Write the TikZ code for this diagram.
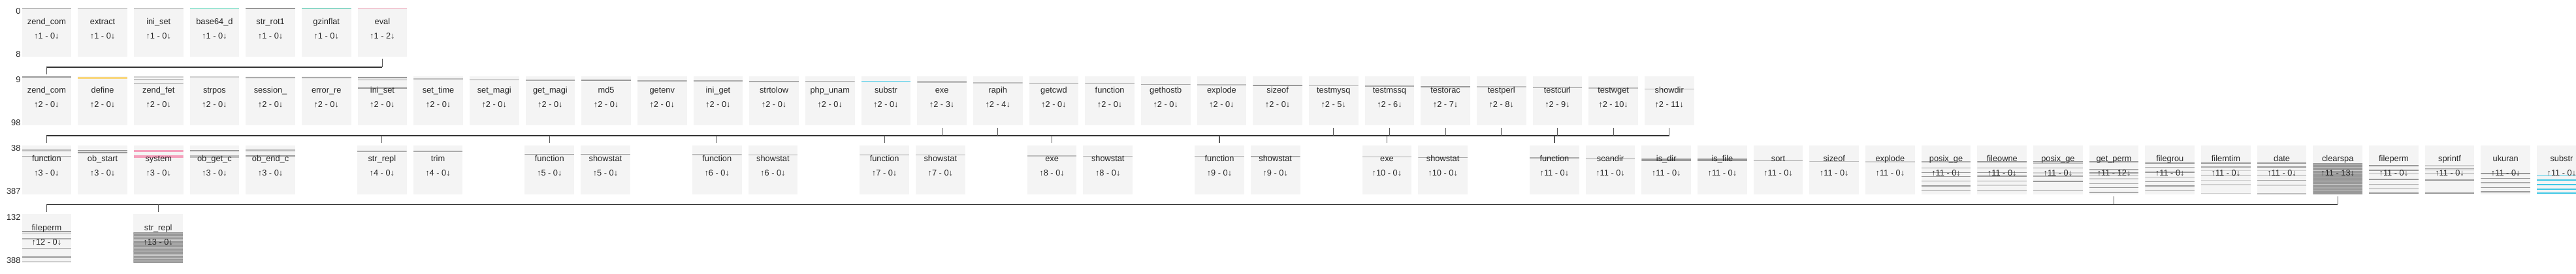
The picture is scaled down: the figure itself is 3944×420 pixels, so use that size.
\documentclass[tikz,border=0pt]{standalone}
\usepackage{fontspec}
\setmainfont{Liberation Sans}
\usepackage{tikz}
\usetikzlibrary{positioning,calc}

\definecolor{boxbg}{HTML}{F4F4F4}
\definecolor{hitA}{HTML}{999999}
\definecolor{hitB}{HTML}{ABABAB}
\definecolor{hitC}{HTML}{BDBDBD}
\definecolor{hitD}{HTML}{CFCFCF}
\definecolor{tealA}{HTML}{3DD4B0}
\definecolor{tealB}{HTML}{8ED8C8}
\definecolor{pinkA}{HTML}{F09AB0}
\definecolor{pinkB}{HTML}{F5A0BC}
\definecolor{yellowA}{HTML}{F9D77E}
\definecolor{cyanA}{HTML}{3FC8E6}

\begin{document}
\begin{tikzpicture}[x=0.75pt,y=-0.75pt,
  fn/.style={rectangle,fill=boxbg,anchor=north west,inner sep=0pt,
             minimum width=56.8pt,minimum height=56.25pt,align=center,
             text height=35.5pt,text depth=20.75pt,text=black!85,
             font=\fontsize{9.6pt}{16.6pt}\selectfont},
  hits/.style={path picture={
     \foreach \yy/\cc/\ww in {#1}
       \draw[color=\cc,line width=\ww pt]
         ($(path picture bounding box.north west)+(0,\yy)$) --
         ($(path picture bounding box.north east)+(0,\yy)$);}},
  rowno/.style={anchor=east,inner sep=0pt,text=black!85,
                font=\fontsize{9.6pt}{11pt}\selectfont},
  bus/.style={line width=1.2pt,black!80},
  tick/.style={line width=0.9pt,black!65}]

\useasboundingbox (0,0) rectangle (3944,420);

% first row
\node[fn,hits={1/hitC/1.5}] (zendA) at (33.3,11.7) {zend\_com\\↑1 - 0↓};
\node[fn,hits={1/hitD/1.5},right=7.05pt of zendA] (extract) {extract\\↑1 - 0↓};
\node[fn,hits={0.6/hitA/0.9},right=7.05pt of extract] (inisetA) {ini\_set\\↑1 - 0↓};
\node[fn,hits={0.6/tealA/0.9},right=7.05pt of inisetA] (base64) {base64\_d\\↑1 - 0↓};
\node[fn,hits={1/hitA/1.5},right=7.05pt of base64] (strrot) {str\_rot1\\↑1 - 0↓};
\node[fn,hits={1/tealB/1.5},right=7.05pt of strrot] (gzinflat) {gzinflat\\↑1 - 0↓};
\node[fn,hits={0.6/pinkA/0.9},right=7.05pt of gzinflat] (eval) {eval\\↑1 - 2↓};

% second row
\node[fn,hits={0.8/hitA/0.9},below=22.35pt of zendA] (zendB) {zend\_com\\↑2 - 0↓};
\node[fn,hits={2.5/yellowA/2.2},right=7.05pt of zendB] (define) {define\\↑2 - 0↓};
\node[fn,hits={{1/hitD/1.5,4.3/hitB/0.9,10.3/hitA/0.9}},right=7.05pt of define] (zendfet) {zend\_fet\\↑2 - 0↓};
\node[fn,hits={1.2/hitD/1.5},right=7.05pt of zendfet] (strpos) {strpos\\↑2 - 0↓};
\node[fn,hits={1.7/hitB/0.9},right=7.05pt of strpos] (session) {session\_\\↑2 - 0↓};
\node[fn,hits={1.7/hitB/0.9},right=7.05pt of session] (errorre) {error\_re\\↑2 - 0↓};
\node[fn,hits={{2/hitA/1.5,5.3/hitA/0.9,17.7/hitA/0.9}},right=7.05pt of errorre] (inisetB) {ini\_set\\↑2 - 0↓};
\node[fn,hits={3.7/hitC/0.9},right=7.05pt of inisetB] (settime) {set\_time\\↑2 - 0↓};
\node[fn,hits={4.7/hitD/1.5},right=7.05pt of settime] (setmagi) {set\_magi\\↑2 - 0↓};
\node[fn,hits={5.7/hitB/0.9},right=7.05pt of setmagi] (getmagi) {get\_magi\\↑2 - 0↓};
\node[fn,hits={6/hitA/1.5},right=7.05pt of getmagi] (md5) {md5\\↑2 - 0↓};
\node[fn,hits={6.7/hitB/0.9},right=7.05pt of md5] (getenv) {getenv\\↑2 - 0↓};
\node[fn,hits={7/hitB/1.5},right=7.05pt of getenv] (iniget) {ini\_get\\↑2 - 0↓};
\node[fn,hits={7.7/hitB/1.5},right=7.05pt of iniget] (strtolow) {strtolow\\↑2 - 0↓};
\node[fn,hits={7.3/hitA/0.9},right=7.05pt of strtolow] (phpunam) {php\_unam\\↑2 - 0↓};
\node[fn,hits={7.3/cyanA/0.9},right=7.05pt of phpunam] (substrA) {substr\\↑2 - 0↓};
\node[fn,hits={8.3/hitC/2.2},right=7.05pt of substrA] (exe) {exe\\↑2 - 3↓};
\node[fn,hits={9.7/hitC/2.2},right=7.05pt of exe] (rapih) {rapih\\↑2 - 4↓};
\node[fn,hits={11.3/hitA/0.9},right=7.05pt of rapih] (getcwd) {getcwd\\↑2 - 0↓};
\node[fn,hits={11.3/hitA/0.9},right=7.05pt of getcwd] (funcB) {function\\↑2 - 0↓};
\node[fn,hits={12.3/hitB/0.9},right=7.05pt of funcB] (gethostb) {gethostb\\↑2 - 0↓};
\node[fn,hits={13/hitC/1.5},right=7.05pt of gethostb] (explodeA) {explode\\↑2 - 0↓};
\node[fn,hits={13.7/hitA/1.5},right=7.05pt of explodeA] (sizeofA) {sizeof\\↑2 - 0↓};
\node[fn,hits={14/hitB/0.9},right=7.05pt of sizeofA] (testmysq) {testmysq\\↑2 - 5↓};
\node[fn,hits={14.7/hitB/0.9},right=7.05pt of testmysq] (testmssq) {testmssq\\↑2 - 6↓};
\node[fn,hits={15.7/hitA/0.9},right=7.05pt of testmssq] (testorac) {testorac\\↑2 - 7↓};
\node[fn,hits={16/hitC/1.5},right=7.05pt of testorac] (testperl) {testperl\\↑2 - 8↓};
\node[fn,hits={17.3/hitA/0.9},right=7.05pt of testperl] (testcurl) {testcurl\\↑2 - 9↓};
\node[fn,hits={18/hitC/1.5},right=7.05pt of testcurl] (testwget) {testwget\\↑2 - 10↓};
\node[fn,hits={19.3/hitB/0.9},right=7.05pt of testwget] (showdir) {showdir\\↑2 - 11↓};

% third row
\node[fn,hits={{8.3/hitC/2.2,16.7/hitA/0.9}},below=22.35pt of zendB] (funcC) {function\\↑3 - 0↓};
\node[fn,hits={{8.3/hitA/0.9,11.3/hitA/0.9}},right=7.05pt of funcC] (obstart) {ob\_start\\↑3 - 0↓};
\node[fn,hits={{8.3/pinkB/0.9,10/pinkB/0.9,16.3/pinkB/0.9,18.3/pinkB/0.9}},right=7.05pt of obstart] (system) {system\\↑3 - 0↓};
\node[fn,hits={{8.3/hitA/0.9,17.5/hitC/2.5}},right=7.05pt of system] (obgetc) {ob\_get\_c\\↑3 - 0↓};
\node[fn,hits={{8.3/hitC/2.2,16.3/hitA/0.9}},right=7.05pt of obgetc] (obendc) {ob\_end\_c\\↑3 - 0↓};
\node[fn,hits={9.7/hitB/1.5},right=70.875pt of obendc] (strreplA) {str\_repl\\↑4 - 0↓};
\node[fn,hits={9.7/hitB/1.5},right=7.05pt of strreplA] (trim) {trim\\↑4 - 0↓};
\node[fn,hits={14/hitA/0.9},right=70.875pt of trim] (funcD) {function\\↑5 - 0↓};
\node[fn,hits={14/hitA/0.9},right=7.05pt of funcD] (statD) {showstat\\↑5 - 0↓};
\node[fn,hits={14.7/hitC/1.5},right=70.875pt of statD] (funcE) {function\\↑6 - 0↓};
\node[fn,hits={15/hitB/0.9},right=7.05pt of funcE] (statE) {showstat\\↑6 - 0↓};
\node[fn,hits={15/hitA/0.9},right=70.875pt of statE] (funcF) {function\\↑7 - 0↓};
\node[fn,hits={15/hitB/0.9},right=7.05pt of funcF] (statF) {showstat\\↑7 - 0↓};
\node[fn,hits={16/hitC/1.5},right=70.875pt of statF] (exeG) {exe\\↑8 - 0↓};
\node[fn,hits={16.7/hitB/0.9},right=7.05pt of exeG] (statG) {showstat\\↑8 - 0↓};
\node[fn,hits={16.7/hitB/0.9},right=70.875pt of statG] (funcH) {function\\↑9 - 0↓};
\node[fn,hits={17.3/hitB/0.9},right=7.05pt of funcH] (statH) {showstat\\↑9 - 0↓};
\node[fn,hits={18/hitB/0.9},right=70.875pt of statH] (exeI) {exe\\↑10 - 0↓};
\node[fn,hits={19/hitB/0.9},right=7.05pt of exeI] (statI) {showstat\\↑10 - 0↓};
\node[fn,hits={19.7/hitB/1.5},right=70.875pt of statI] (funcJ) {function\\↑11 - 0↓};
\node[fn,hits={20.7/hitA/0.9},right=7.05pt of funcJ] (scandir) {scandir\\↑11 - 0↓};
\node[fn,hits={22.3/hitA/3},right=7.05pt of scandir] (isdir) {is\_dir\\↑11 - 0↓};
\node[fn,hits={22.7/hitA/3},right=7.05pt of isdir] (isfile) {is\_file\\↑11 - 0↓};
\node[fn,hits={24/hitA/0.9},right=7.05pt of isfile] (sort) {sort\\↑11 - 0↓};
\node[fn,hits={24.7/hitC/0.9},right=7.05pt of sort] (sizeofB) {sizeof\\↑11 - 0↓};
\node[fn,hits={25/hitD/1.5},right=7.05pt of sizeofB] (explodeB) {explode\\↑11 - 0↓};
\node[fn,hits={{25.7/hitB/1.5,34.7/hitA/0.9,42/hitA/0.9,48/hitA/0.9,55/hitA/0.9,62.3/hitA/0.9,69.7/hitA/0.9}},
      right=7.05pt of explodeB] (posixA) {posix\_ge\\↑11 - 0↓};
\node[fn,hits={{25.7/hitA/1.5,34.7/hitA/0.9,42/hitA/0.9,47.3/hitA/0.9,54.7/hitA/0.9,61.3/hitD/1.5,69/hitA/0.9}},
      right=7.05pt of posixA] (fileowne) {fileowne\\↑11 - 0↓};
\node[fn,hits={{25.7/hitA/1.5,27.6/hitC/0.9,34.7/hitA/0.9,42/hitD/1.5,47.3/hitB/0.9,55.7/hitA/1.5,69.7/hitA/0.9}},
      right=7.05pt of fileowne] (posixB) {posix\_ge\\↑11 - 0↓};
\node[fn,hits={{25.7/hitA/1.5,37.3/hitB/0.9,42.3/hitA/0.9,45.7/hitB/0.9,51.7/hitD/1.5,59/hitB/0.9,65/hitA/0.9,72.3/hitB/0.9}},
      right=7.05pt of posixB] (getperm) {get\_perm\\↑11 - 12↓};
\node[fn,hits={{27.3/hitA/1.5,34/hitB/0.9,41.3/hitA/1.5,49/hitB/0.9,55.7/hitA/0.9,62.3/hitA/0.9,69.7/hitA/0.9}},
      right=7.05pt of getperm] (filegrou) {filegrou\\↑11 - 0↓};
\node[fn,hits={{27.3/hitA/0.9,33.3/hitB/0.9,39/hitD/0.9,46.7/hitB/0.9,54/hitD/0.9,60.7/hitD/1.5,74/hitD/0.9}},
      right=7.05pt of filegrou] (filemtim) {filemtim\\↑11 - 0↓};
\node[fn,hits={{27.3/hitA/0.9,33.3/hitA/0.9,39/hitD/0.9,46.7/hitB/0.9,54/hitB/0.9,61.3/hitD/1.5,74/hitC/1.5}},
      right=7.05pt of filemtim] (date) {date\\↑11 - 0↓};
\node[fn,hits={{51.2/hitA/35.8,29/hitB/1.5,34/hitC/0.8,39/hitD/0.8,44/hitC/0.8,49/hitB/0.8,55/hitC/0.8,60/hitD/0.8,65/hitB/1.5,70/hitC/0.8}},
      right=7.05pt of date] (clearspa) {clearspa\\↑11 - 13↓};
\node[fn,hits={{31.3/hitA/0.9,38/hitA/1.5,44/hitB/0.9,52.3/hitA/1.5,60/hitB/0.9,66.7/hitA/0.9,73.3/hitA/0.9}},
      right=7.05pt of clearspa] (filepermA) {fileperm\\↑11 - 0↓};
\node[fn,hits={{31.3/hitD/1.5,35.7/hitB/0.9,38/hitA/0.9,44/hitA/0.9,53.3/hitA/0.9,73.3/hitA/0.9}},
      right=7.05pt of filepermA] (sprintf) {sprintf\\↑11 - 0↓};
\node[fn,hits={{43.3/hitA/0.9,50.7/hitA/0.9,57.3/hitB/0.9,64.7/hitA/0.9,71.3/hitA/0.9}},
      right=7.05pt of sprintf] (ukuran) {ukuran\\↑11 - 0↓};
\node[fn,hits={{45.7/cyanA/0.9,53.3/cyanA/0.9,60/cyanA/1.5,67.3/cyanA/0.9,73.3/cyanA/1.5}},
      right=7.05pt of ukuran] (substrB) {substr\\↑11 - 0↓};

% fourth row
\node[fn,hits={{26.7/hitA/1.5,30.7/hitB/0.9,38/hitB/0.9,52.3/hitA/0.9,65.7/hitA/1.5,72.3/hitC/0.9}},
      below=22.35pt of funcC] (filepermB) {fileperm\\↑12 - 0↓};
\node[fn,hits={{51.6/hitA/35,30/hitB/1.5,35/hitC/0.8,40/hitD/0.8,46/hitB/0.8,52/hitC/0.8,57/hitB/0.8,63/hitD/0.8,68/hitC/0.8,72/hitB/1.5}},
      right=70.875pt of filepermB] (strreplB) {str\_repl\\↑13 - 0↓};

% line numbers of each row
\node[rowno] (fromA) at ($(zendA.north west)+(-1.6,5)$) {0};
\node[rowno] (toA) at ($(zendA.south west)+(-1.6,-4.5)$) {8};
\node[rowno] (fromB) at ($(zendB.north west)+(-1.6,5)$) {9};
\node[rowno] (toB) at ($(zendB.south west)+(-1.6,-4.5)$) {98};
\node[rowno] (fromC) at ($(funcC.north west)+(-1.6,5)$) {38};
\node[rowno] (toC) at ($(funcC.south west)+(-1.6,-4.5)$) {387};
\node[rowno] (fromD) at ($(filepermB.north west)+(-1.6,5)$) {132};
\node[rowno] (toD) at ($(filepermB.south west)+(-1.6,-4.5)$) {388};

% calls from row to row
\coordinate (busA) at ($(zendB.north)+(0,-14.3)$);
\coordinate (busB) at ($(funcC.north)+(0,-14.3)$);
\coordinate (busC) at ($(filepermB.north)+(0,-14.3)$);

\draw[bus] (busA) -- (busA -| eval.south);
\draw[tick] ([yshift=-2.25pt]eval.south) -- (busA -| eval.south);
\draw[tick] (busA) -- ([yshift=2.25pt]zendB.north);

\draw[bus] (busB) -- (busB -| showdir.south);
\draw[tick] ([yshift=-2.25pt]exe.south) -- (busB -| exe.south);
\draw[tick] ([yshift=-2.25pt]rapih.south) -- (busB -| rapih.south);
\draw[tick] ([yshift=-2.25pt]testmysq.south) -- (busB -| testmysq.south);
\draw[tick] ([yshift=-2.25pt]testmssq.south) -- (busB -| testmssq.south);
\draw[tick] ([yshift=-2.25pt]testorac.south) -- (busB -| testorac.south);
\draw[tick] ([yshift=-2.25pt]testperl.south) -- (busB -| testperl.south);
\draw[tick] ([yshift=-2.25pt]testcurl.south) -- (busB -| testcurl.south);
\draw[tick] ([yshift=-2.25pt]testwget.south) -- (busB -| testwget.south);
\draw[tick] ([yshift=-2.25pt]showdir.south) -- (busB -| showdir.south);
\draw[tick] (busB) -- ([yshift=2.25pt]funcC.north);
\draw[tick] (busB -| strreplA.north) -- ([yshift=2.25pt]strreplA.north);
\draw[tick] (busB -| funcD.north) -- ([yshift=2.25pt]funcD.north);
\draw[tick] (busB -| funcE.north) -- ([yshift=2.25pt]funcE.north);
\draw[tick] (busB -| funcF.north) -- ([yshift=2.25pt]funcF.north);
\draw[tick] (busB -| exeG.north) -- ([yshift=2.25pt]exeG.north);
\draw[tick] (busB -| funcH.north) -- ([yshift=2.25pt]funcH.north);
\draw[tick] (busB -| exeI.north) -- ([yshift=2.25pt]exeI.north);
\draw[tick] (busB -| funcJ.north) -- ([yshift=2.25pt]funcJ.north);

\draw[bus] (busC) -- (busC -| clearspa.south);
\draw[tick] ([yshift=-2.25pt]getperm.south) -- (busC -| getperm.south);
\draw[tick] ([yshift=-2.25pt]clearspa.south) -- (busC -| clearspa.south);
\draw[tick] (busC) -- ([yshift=2.25pt]filepermB.north);
\draw[tick] (busC -| strreplB.north) -- ([yshift=2.25pt]strreplB.north);
\end{tikzpicture}
\end{document}
